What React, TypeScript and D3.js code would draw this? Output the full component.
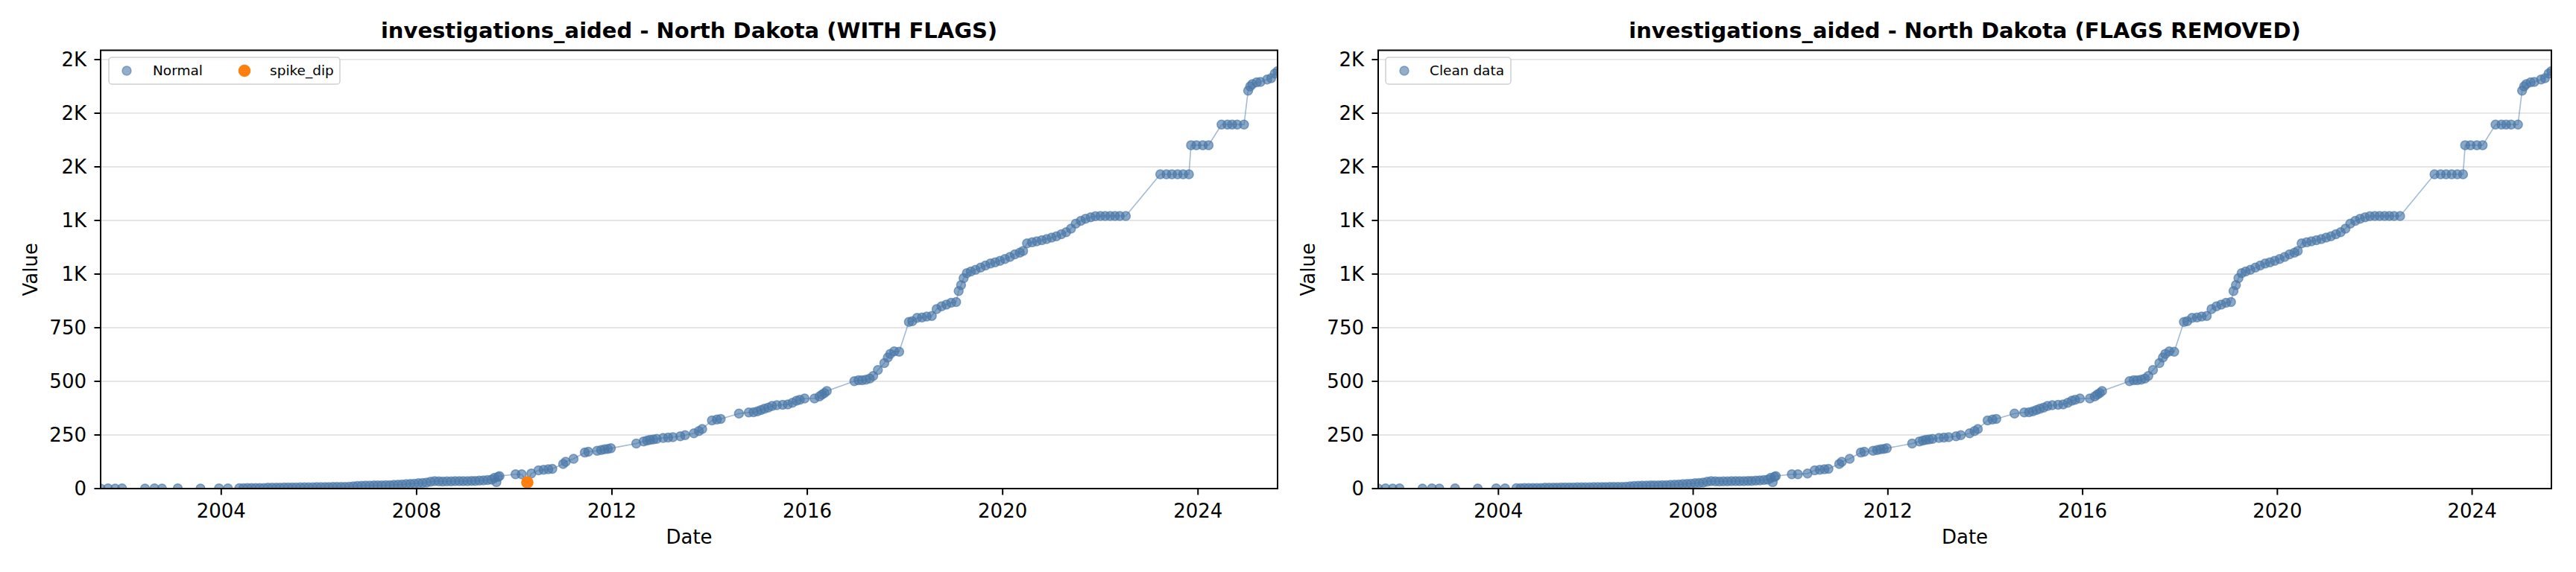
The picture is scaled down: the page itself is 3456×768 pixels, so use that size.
import React from "react";
import * as d3 from "d3";

// ---------- data ----------
const observations: [string, number][] = [
  ["2001-07-13", 0], ["2001-09-06", 1], ["2001-10-30", 0], ["2001-12-20", 1], ["2002-06-10", 0],
  ["2002-08-20", 1], ["2002-10-15", 0], ["2003-02-10", 1], ["2003-07-30", 0], ["2003-12-15", 1],
  ["2004-02-20", 1],
  ["2004-05-15", 2], ["2004-06-15", 2], ["2004-07-15", 3], ["2004-08-15", 3], ["2004-09-15", 3],
  ["2004-10-15", 3], ["2004-11-15", 3], ["2004-12-15", 4],
  ["2005-01-15", 4], ["2005-02-15", 4], ["2005-03-15", 4], ["2005-04-15", 5], ["2005-05-15", 5],
  ["2005-06-15", 5], ["2005-07-15", 5], ["2005-08-15", 6], ["2005-09-15", 6], ["2005-10-15", 6],
  ["2005-11-15", 6], ["2005-12-15", 7],
  ["2006-01-15", 7], ["2006-02-15", 7], ["2006-03-15", 7], ["2006-04-15", 8], ["2006-05-15", 8],
  ["2006-06-15", 8], ["2006-07-15", 8], ["2006-08-15", 9], ["2006-09-15", 10], ["2006-10-15", 12],
  ["2006-11-15", 13], ["2006-12-15", 14],
  ["2007-01-15", 14], ["2007-02-15", 15], ["2007-03-15", 15], ["2007-04-15", 15], ["2007-05-15", 16],
  ["2007-06-15", 16], ["2007-07-15", 17], ["2007-08-15", 18], ["2007-09-15", 19], ["2007-10-15", 21],
  ["2007-11-15", 22], ["2007-12-15", 23],
  ["2008-01-15", 25], ["2008-02-15", 26], ["2008-03-15", 28], ["2008-04-15", 32], ["2008-05-15", 35],
  ["2008-06-15", 34], ["2008-07-15", 33], ["2008-08-15", 34], ["2008-09-15", 34], ["2008-10-15", 35],
  ["2008-11-15", 35], ["2008-12-15", 35],
  ["2009-01-15", 35], ["2009-02-15", 36], ["2009-03-15", 36], ["2009-04-15", 37], ["2009-05-15", 38],
  ["2009-06-15", 40], ["2009-07-15", 42], ["2009-08-05", 50], ["2009-08-20", 30], ["2009-09-01", 55],
  ["2009-09-12", 58],
  ["2010-01-10", 67], ["2010-02-25", 67], ["2010-04-08", 29], ["2010-05-08", 70], ["2010-07-01", 85],
  ["2010-08-08", 88], ["2010-09-12", 90], ["2010-10-12", 92], ["2011-01-01", 115], ["2011-01-20", 125],
  ["2011-03-20", 139], ["2011-06-12", 168], ["2011-07-08", 172], ["2011-09-12", 176], ["2011-10-12", 180],
  ["2011-11-06", 183], ["2011-12-01", 185], ["2011-12-24", 188],
  ["2012-07-01", 210], ["2012-08-25", 220], ["2012-09-20", 224], ["2012-10-12", 227], ["2012-11-06", 229],
  ["2012-12-01", 232], ["2013-01-18", 236], ["2013-02-24", 238], ["2013-04-01", 240], ["2013-05-26", 244],
  ["2013-07-01", 249], ["2013-09-05", 258], ["2013-10-12", 268], ["2013-11-06", 278], ["2014-01-18", 318],
  ["2014-02-24", 322], ["2014-03-24", 325], ["2014-08-08", 350], ["2014-10-20", 355], ["2014-11-25", 356],
  ["2014-12-24", 360], ["2015-01-20", 366], ["2015-02-14", 372], ["2015-03-15", 378], ["2015-04-12", 385],
  ["2015-05-18", 389], ["2015-07-01", 391], ["2015-08-08", 392], ["2015-09-12", 400], ["2015-10-12", 410],
  ["2015-11-06", 414], ["2015-12-12", 420], ["2016-02-24", 420], ["2016-04-01", 430], ["2016-04-20", 438],
  ["2016-05-08", 445], ["2016-05-26", 455],
  ["2016-12-18", 501], ["2017-01-18", 505], ["2017-02-14", 505], ["2017-03-15", 508], ["2017-04-12", 513],
  ["2017-05-08", 525], ["2017-06-12", 553], ["2017-07-30", 585], ["2017-08-25", 611], ["2017-09-12", 628],
  ["2017-10-12", 640], ["2017-11-18", 638],
  ["2018-01-30", 777], ["2018-02-24", 780], ["2018-04-01", 796], ["2018-05-08", 798], ["2018-06-12", 802],
  ["2018-07-20", 805], ["2018-08-25", 837], ["2018-10-01", 850], ["2018-11-06", 858], ["2018-12-12", 866],
  ["2019-01-18", 870], ["2019-02-06", 921], ["2019-02-24", 949], ["2019-03-15", 981], ["2019-04-08", 1004],
  ["2019-05-08", 1012], ["2019-06-12", 1020], ["2019-07-20", 1030], ["2019-08-25", 1040], ["2019-10-01", 1049],
  ["2019-11-06", 1055], ["2019-12-12", 1062], ["2020-01-18", 1070], ["2020-02-24", 1080], ["2020-04-01", 1092],
  ["2020-05-08", 1100], ["2020-06-02", 1108], ["2020-07-01", 1143], ["2020-08-08", 1148], ["2020-09-12", 1153],
  ["2020-10-20", 1158], ["2020-11-25", 1163], ["2021-01-01", 1170], ["2021-02-06", 1176], ["2021-03-15", 1186],
  ["2021-04-20", 1195], ["2021-05-26", 1212], ["2021-07-01", 1235], ["2021-08-08", 1248], ["2021-09-12", 1258],
  ["2021-10-20", 1265], ["2021-11-25", 1270], ["2022-01-01", 1271], ["2022-02-06", 1271], ["2022-03-15", 1271],
  ["2022-04-20", 1271], ["2022-05-26", 1271], ["2022-07-10", 1271],
  ["2023-03-25", 1465], ["2023-05-10", 1465], ["2023-06-20", 1465], ["2023-08-01", 1465], ["2023-09-12", 1465],
  ["2023-10-25", 1465], ["2023-11-10", 1601], ["2023-12-20", 1601], ["2024-02-06", 1601], ["2024-03-20", 1601],
  ["2024-06-25", 1697], ["2024-08-08", 1697], ["2024-09-12", 1697], ["2024-10-20", 1697], ["2024-12-10", 1697],
  ["2025-01-10", 1855], ["2025-01-25", 1875], ["2025-02-10", 1885], ["2025-03-15", 1894], ["2025-04-12", 1896],
  ["2025-06-01", 1907], ["2025-07-01", 1913], ["2025-07-28", 1935], ["2025-08-18", 1946],
];

const spikeDip: [string, number][] = [["2010-04-08", 29]];

const xTickYears = [2004, 2008, 2012, 2016, 2020, 2024];
const yTicks = [0, 250, 500, 750, 1000, 1250, 1500, 1750, 2000];

const metric = "investigations_aided";
const region = "North Dakota";

// ---------- helpers ----------
const parse = d3.timeParse("%Y-%m-%d");
type Pt = { date: Date; value: number; key: string };
const allPts: Pt[] = observations.map(([d, v]) => ({ date: parse(d)!, value: v, key: d }));
const flagKeys = new Set(spikeDip.map(([d]) => d));
const flagPts: Pt[] = spikeDip.map(([d, v]) => ({ date: parse(d)!, value: v, key: d }));
const normalPts = allPts.filter((p) => !flagKeys.has(p.key));

const BLUE = "#4a78a8";
const ORANGE = "#ff7f0e";
const FONT = "DejaVu Sans";
const R = 6;

const fmtY = (v: number) => (v >= 1000 ? `${(v / 1000).toFixed(0)}K` : `${v}`);

type PanelProps = {
  left: number;
  right: number;
  title: string;
  lineData: Pt[];
  scatter: Pt[];
  flagged: Pt[] | null;
};

const TOP = 67.5;
const BOTTOM = 656;

function Panel({ left, right, title, lineData, scatter, flagged }: PanelProps) {
  const x = d3
    .scaleTime()
    .domain(d3.extent(allPts, (d) => d.date) as [Date, Date])
    .range([left, right]);
  const maxV = d3.max(allPts, (d) => d.value)!;
  const y = d3.scaleLinear().domain([0, maxV * 1.05]).range([BOTTOM, TOP]);
  const line = d3
    .line<Pt>()
    .x((d) => x(d.date))
    .y((d) => y(d.value));
  const clipId = `clip-${left}`;
  const cx = (left + right) / 2;
  const cy = (TOP + BOTTOM) / 2;

  return (
    <g fontFamily={FONT}>
      <defs>
        <clipPath id={clipId}>
          <rect x={left} y={TOP} width={right - left} height={BOTTOM - TOP} />
        </clipPath>
      </defs>
      {yTicks.map((t) => (
        <line key={t} x1={left} x2={right} y1={y(t)} y2={y(t)} stroke="#e5e5e5" strokeWidth={1.8} />
      ))}
      <g clipPath={`url(#${clipId})`}>
        <path d={line(lineData)!} fill="none" stroke={BLUE} strokeOpacity={0.5} strokeWidth={1.6} />
        {scatter.map((p) => (
          <circle
            key={p.key}
            cx={x(p.date)}
            cy={y(p.value)}
            r={R}
            fill={BLUE}
            fillOpacity={0.65}
            stroke={BLUE}
            strokeOpacity={0.65}
            strokeWidth={1.5}
          />
        ))}
        {flagged &&
          flagged.map((p) => (
            <circle key={p.key} cx={x(p.date)} cy={y(p.value)} r={8.3} fill={ORANGE} />
          ))}
      </g>
      <rect x={left} y={TOP} width={right - left} height={BOTTOM - TOP} fill="none" stroke="#000" strokeWidth={2} />
      {xTickYears.map((yr) => {
        const xx = x(new Date(yr, 0, 1));
        return (
          <g key={yr}>
            <line x1={xx} x2={xx} y1={BOTTOM} y2={BOTTOM + 8.5} stroke="#000" strokeWidth={2} />
            <text x={xx} y={695} textAnchor="middle" fontSize={26}>
              {yr}
            </text>
          </g>
        );
      })}
      {yTicks.map((t) => (
        <g key={t}>
          <line x1={left - 8.5} x2={left} y1={y(t)} y2={y(t)} stroke="#000" strokeWidth={2} />
          <text x={left - 19} y={y(t)} dy="0.36em" textAnchor="end" fontSize={26}>
            {fmtY(t)}
          </text>
        </g>
      ))}
      <text x={cx} y={730} textAnchor="middle" fontSize={26}>
        Date
      </text>
      <text transform={`translate(${left - 85},${cy}) rotate(-90)`} textAnchor="middle" fontSize={26}>
        Value
      </text>
      <text x={cx} y={51} textAnchor="middle" fontSize={29} fontWeight="bold">
        {title}
      </text>
      {flagged ? (
        <g>
          <rect x={left + 11} y={77} width={310} height={36} rx={4} fill="#fff" fillOpacity={0.8} stroke="#d0d0d0" strokeWidth={1.5} />
          <circle cx={left + 35} cy={95} r={R} fill={BLUE} fillOpacity={0.6} stroke={BLUE} strokeOpacity={0.6} strokeWidth={1.4} />
          <text x={left + 70} y={101} fontSize={18.5}>Normal</text>
          <circle cx={left + 193} cy={95} r={8.3} fill={ORANGE} />
          <text x={left + 227} y={101} fontSize={18.5}>spike_dip</text>
        </g>
      ) : (
        <g>
          <rect x={left + 10} y={77} width={168} height={36} rx={4} fill="#fff" fillOpacity={0.8} stroke="#d0d0d0" strokeWidth={1.5} />
          <circle cx={left + 35} cy={95} r={R} fill={BLUE} fillOpacity={0.6} stroke={BLUE} strokeOpacity={0.6} strokeWidth={1.4} />
          <text x={left + 69} y={101} fontSize={18.5}>Clean data</text>
        </g>
      )}
    </g>
  );
}

export default function App() {
  return (
    <svg width={3456} height={768} style={{ position: "absolute", left: 0, top: 0, background: "#fff" }}>
      <rect x={0} y={0} width={3456} height={768} fill="#fff" />
      <Panel
        left={135}
        right={1714}
        title={`${metric} - ${region} (WITH FLAGS)`}
        lineData={allPts}
        scatter={normalPts}
        flagged={flagPts}
      />
      <Panel
        left={1849}
        right={3423}
        title={`${metric} - ${region} (FLAGS REMOVED)`}
        lineData={normalPts}
        scatter={normalPts}
        flagged={null}
      />
    </svg>
  );
}
